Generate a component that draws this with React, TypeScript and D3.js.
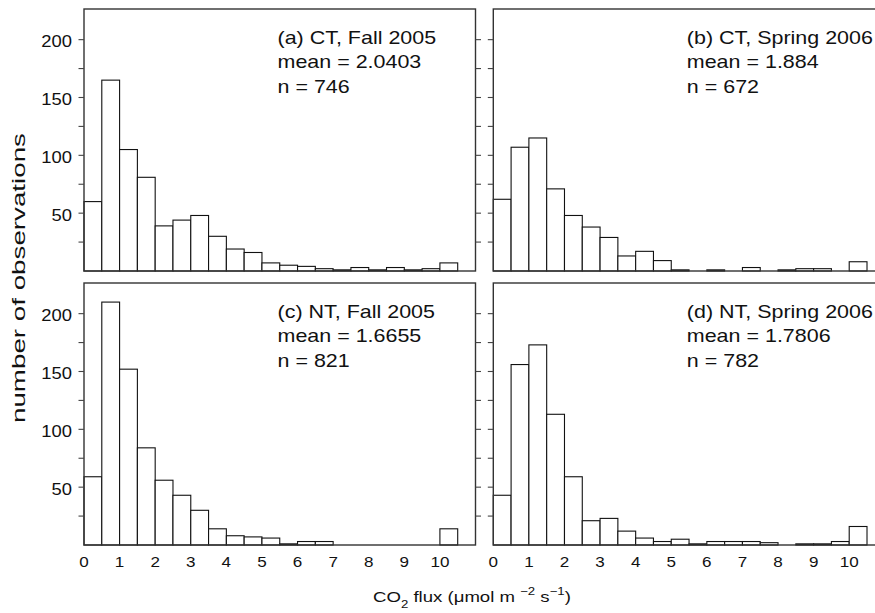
import React from "react";
import * as d3 from "d3";

const binStarts = [0, 0.5, 1, 1.5, 2, 2.5, 3, 3.5, 4, 4.5, 5, 5.5, 6, 6.5, 7, 7.5, 8, 8.5, 9, 9.5, 10];
const binWidth = 0.5;

const countsA = [60, 165, 105, 81, 39, 44, 48, 30, 19, 16, 7, 5, 4, 2, 1, 3, 1, 3, 1, 2, 7];
const countsB = [62, 107, 115, 71, 48, 38, 29, 13, 17, 9, 1, 0, 1, 0, 3, 0, 1, 2, 2, 0, 8];
const countsC = [59, 210, 152, 84, 56, 43, 30, 14, 8, 7, 6, 1, 3, 3, 0, 0, 0, 0, 0, 0, 14];
const countsD = [43, 156, 173, 113, 59, 21, 23, 12, 6, 3, 5, 1, 3, 3, 3, 2, 0, 1, 1, 3, 16];

const panelTitles = ["(a) CT, Fall 2005", "(b) CT, Spring 2006", "(c) NT, Fall 2005", "(d) NT, Spring 2006"];
const panelMeans = ["mean = 2.0403", "mean = 1.884", "mean = 1.6655", "mean = 1.7806"];
const panelNs = ["n = 746", "n = 672", "n = 821", "n = 782"];

const yMajorTicks = [50, 100, 150, 200];
const yMinorTicks = [25, 75, 125, 175];
const xTicks = [0, 1, 2, 3, 4, 5, 6, 7, 8, 9, 10];

const xDomain: [number, number] = [0, 11];
const yDomain: [number, number] = [0, 226.5];

const W = 875;
const H = 613;
const PW = 391.5;
const PH = 262;
const panelX = [84, 493.3];
const panelY = [9, 283];
const FONT = "'Liberation Sans', Arial, Helvetica, sans-serif";

type STextProps = {
  x: number;
  y: number;
  sx?: number;
  size: number;
  anchor?: "start" | "middle" | "end";
  children: React.ReactNode;
};

function SText({ x, y, sx = 1, size, anchor = "start", children }: STextProps) {
  return (
    <text
      transform={`translate(${x},${y}) scale(${sx},1)`}
      textAnchor={anchor}
      fontSize={size}
      fontFamily={FONT}
      fill="#111"
    >
      {children}
    </text>
  );
}

type PanelProps = {
  counts: number[];
  col: number;
  row: number;
  idx: number;
};

function Panel({ counts, col, row, idx }: PanelProps) {
  const x0 = panelX[col];
  const y0 = panelY[row];
  const x = d3.scaleLinear().domain(xDomain).range([0, PW]);
  const y = d3.scaleLinear().domain(yDomain).range([PH, 0]);
  const allTicks = [...yMajorTicks, ...yMinorTicks];
  return (
    <g transform={`translate(${x0},${y0})`}>
      {binStarts.map((b, i) =>
        counts[i] > 0 ? (
          <rect
            key={i}
            x={x(b)}
            y={y(counts[i])}
            width={x(b + binWidth) - x(b)}
            height={PH - y(counts[i])}
            fill="#fff"
            stroke="#111"
            strokeWidth={1.1}
          />
        ) : null
      )}
      <rect x={0} y={0} width={PW} height={PH} fill="none" stroke="#333" strokeWidth={1.4} />
      {allTicks.map((t) => (
        <line key={"l" + t} x1={-5.5} x2={0} y1={y(t)} y2={y(t)} stroke="#444" strokeWidth={1.1} />
      ))}
      {col === 0 &&
        allTicks.map((t) => (
          <line key={"r" + t} x1={PW} x2={PW + 5.5} y1={y(t)} y2={y(t)} stroke="#444" strokeWidth={1.1} />
        ))}
      {col === 0 &&
        yMajorTicks.map((t) => (
          <SText key={"t" + t} x={-12} y={y(t) + 7.5} sx={1.15} size={16} anchor="end">
            {t}
          </SText>
        ))}
      {row === 1 &&
        xTicks.map((t) => (
          <SText key={"x" + t} x={x(t)} y={PH + 22} sx={1.1} size={15.5} anchor="middle">
            {t}
          </SText>
        ))}
      <SText x={193.5} y={34.5} sx={1.13} size={19}>{panelTitles[idx]}</SText>
      <SText x={193.5} y={59} sx={1.13} size={19}>{panelMeans[idx]}</SText>
      <SText x={193.5} y={83.5} sx={1.13} size={19}>{panelNs[idx]}</SText>
    </g>
  );
}

export default function App() {
  return (
    <svg width={W} height={H} style={{ position: "absolute", left: 0, top: 0, background: "#fff" }}>
      <rect x={0} y={0} width={W} height={H} fill="#fff" />
      <Panel counts={countsA} col={0} row={0} idx={0} />
      <Panel counts={countsB} col={1} row={0} idx={1} />
      <Panel counts={countsC} col={0} row={1} idx={2} />
      <Panel counts={countsD} col={1} row={1} idx={3} />
      <text
        transform={`translate(25,278) rotate(-90)`}
        textAnchor="middle"
        fontSize={18.5}
        fontFamily={FONT}
        fill="#111"
        textLength={290}
        lengthAdjust="spacingAndGlyphs"
      >
        number of observations
      </text>
      <text transform="translate(373,602) scale(1.2,1)" fontSize={15.5} fontFamily={FONT} fill="#111">
        CO<tspan dy={6} fontSize={11}>2</tspan>
        <tspan dy={-6}> flux (μmol m </tspan>
        <tspan dy={-7} fontSize={11}>−2</tspan>
        <tspan dy={7}> s</tspan>
        <tspan dy={-7} fontSize={11}>−1</tspan>
        <tspan dy={7}>)</tspan>
      </text>
    </svg>
  );
}
